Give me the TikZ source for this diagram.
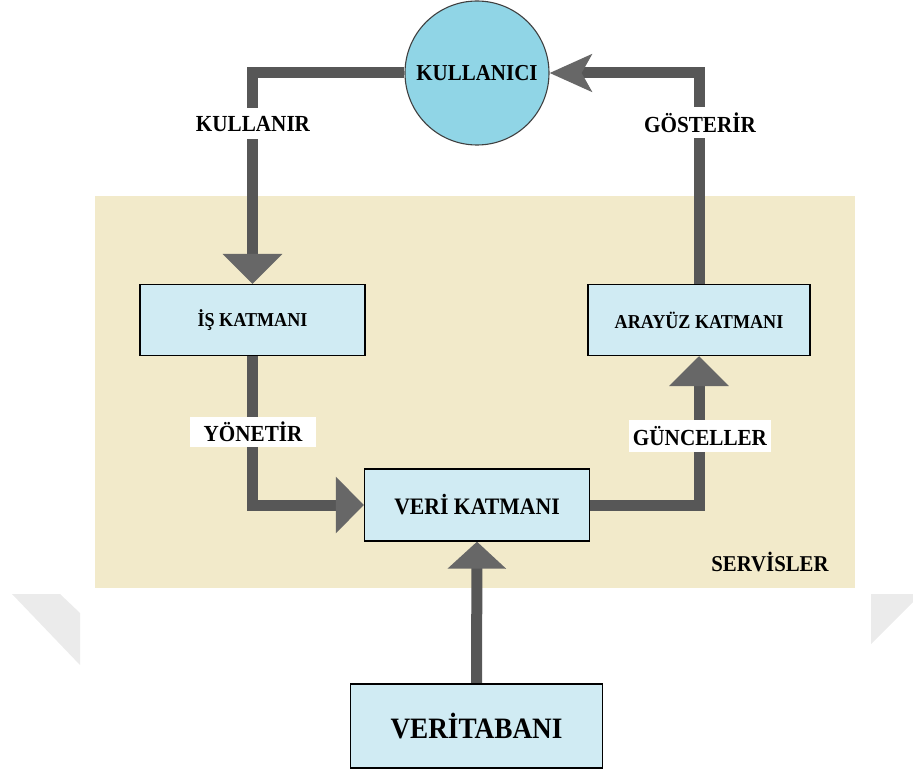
\documentclass[tikz,border=0pt]{standalone}
\usepackage{fontspec}
\setmainfont{Liberation Serif}[FakeStretch=0.92]
\usetikzlibrary{arrows.meta,backgrounds}
\definecolor{servbg}{HTML}{F2EACA}
\definecolor{boxblue}{HTML}{D0EBF3}
\definecolor{userblue}{HTML}{90D5E6}
\definecolor{linkgray}{HTML}{575757}
\definecolor{tipgray}{HTML}{676767}
\definecolor{markgray}{HTML}{EBEBEB}

\begin{document}
\begin{tikzpicture}[x=1pt,y=-1pt,
  layer/.style={draw=black, line width=1.3pt, fill=boxblue, inner sep=0pt,
    font=\bfseries\fontsize{19.7}{22}\selectfont},
  link/.style={draw=linkgray, line width=11pt},
  bigtip/.style={-{Triangle[width=58pt,length=30pt,color=tipgray]}},
  tag/.style={fill=white, inner xsep=4pt, inner ysep=0pt, minimum height=31pt,
    font=\bfseries\fontsize{23}{26}\selectfont}
]
\useasboundingbox (0,0) rectangle (913,775);

% actors and layers
\node[circle, draw=black!75, line width=1.1pt, fill=userblue, minimum size=144pt,
  inner sep=0pt, font=\bfseries\fontsize{22.8}{26}\selectfont] (kul) at (477,73) {KULLANICI};
\node[layer, minimum width=225pt, minimum height=71pt] (is) at (252.5,320) {İŞ KATMANI};
\node[layer, minimum width=222pt, minimum height=71pt] (arayuz) at (699,320) {ARAYÜZ KATMANI};
\node[layer, minimum width=225pt, minimum height=72pt,
  font=\bfseries\fontsize{23.6}{26}\selectfont] (veri) at (477,505) {VERİ KATMANI};
\node[layer, minimum width=252pt, minimum height=84pt,
  font=\bfseries\fontsize{29.6}{32}\selectfont] (db) at (476.5,726) {VERİTABANI};

% connector labels
\node[tag] (lkullanir) at (253,124) {KULLANIR};
\node[tag] (lgosterir) at (700,123) {GÖSTERİR};
\node[tag, minimum width=126pt, minimum height=30pt] (lyonetir) at (253,432) {YÖNETİR};
\node[tag] (lguncel) at (700,436) {GÜNCELLER};
\node[font=\bfseries\fontsize{22.6}{26}\selectfont] (lserv) at (770,562) {SERVİSLER};

\begin{pgfonlayer}{background}
  % services area
  \fill[servbg] (95,196) rectangle (855,588);
  % faint marks at the lower corners
  \fill[markgray] (12,594) -- (60,594) -- (80,613) -- (80,665) -- cycle;
  \fill[markgray] (871,594) -- (913,594) -- (913,602) -- (871,644) -- cycle;
  % connectors
  \draw[link, bigtip] (kul.west) -| (is.north);
  \draw[link, -{Stealth[width=37pt,length=42pt,inset=10pt,color=tipgray]}] (arayuz.north) |- (kul.east);
  \draw[link, -{Triangle[width=55pt,length=28pt,color=tipgray]}] (is.south) |- (veri.west);
  \draw[link, bigtip] (veri.east) -| (arayuz.south);
  \draw[link, -{Triangle[width=57pt,length=27pt,color=tipgray]}] (db.north) -- (veri.south);
\end{pgfonlayer}
\end{tikzpicture}
\end{document}
